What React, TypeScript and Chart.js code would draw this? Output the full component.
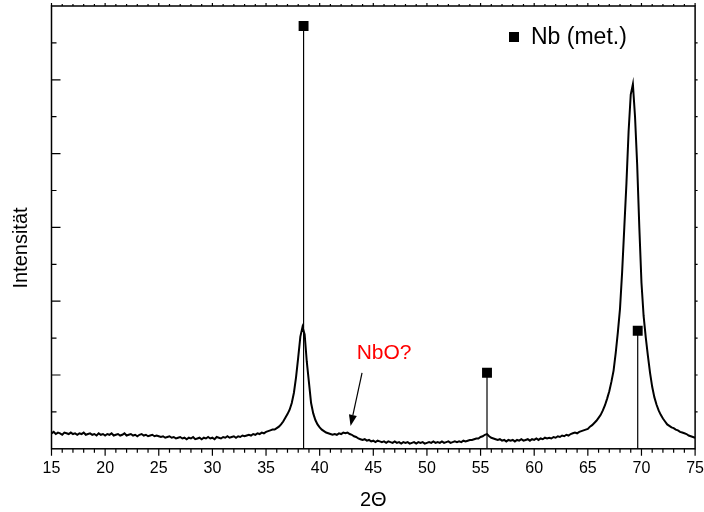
import { useEffect, useRef } from "react";
import { Chart, registerables } from "chart.js";

Chart.register(...registerables);

// measurement grid: 2Θ from 15° in 0.2° steps
const ANGLE_START = 15;
const ANGLE_STEP = 0.2;

// measured intensity (arbitrary units), one value per grid step
const intensity: number[] = [
  // 15.0 – 25.0
  0.21, 0.23, 0.20, 0.22, 0.21, 0.19, 0.22, 0.21, 0.20, 0.22,
  0.20, 0.21, 0.19, 0.21, 0.20, 0.22, 0.19, 0.20, 0.21, 0.19,
  0.20, 0.18, 0.21, 0.19, 0.20, 0.18, 0.20, 0.19, 0.21, 0.18,
  0.19, 0.20, 0.18, 0.19, 0.21, 0.18, 0.19, 0.20, 0.18, 0.19,
  0.17, 0.19, 0.20, 0.18, 0.19, 0.17, 0.18, 0.19, 0.17, 0.18,
  0.17,
  // 25.2 – 35.0
  0.16, 0.17, 0.15, 0.16, 0.17, 0.15, 0.16, 0.14, 0.15, 0.16,
  0.14, 0.15, 0.13, 0.15, 0.14, 0.16, 0.13, 0.14, 0.15, 0.13,
  0.15, 0.14, 0.16, 0.14, 0.15, 0.13, 0.16, 0.15, 0.14, 0.16,
  0.15, 0.17, 0.15, 0.16, 0.17, 0.15, 0.17, 0.16, 0.18, 0.17,
  0.18, 0.19, 0.18, 0.20, 0.19, 0.21, 0.20, 0.22, 0.21, 0.23,
  // 35.2 – 40.8
  0.24, 0.25, 0.26, 0.26, 0.28, 0.30, 0.33, 0.37, 0.42, 0.47,
  0.53, 0.62, 0.76, 0.97, 1.24, 1.52, 1.65, 1.55, 1.18, 0.90,
  0.62, 0.48, 0.39, 0.33, 0.29, 0.26, 0.24, 0.22, 0.21,
  // 41.0 – 54.0
  0.20, 0.19, 0.20, 0.19, 0.21, 0.20, 0.22, 0.21, 0.22, 0.20,
  0.19, 0.17, 0.16, 0.14, 0.13, 0.12, 0.13, 0.11, 0.12, 0.10,
  0.11, 0.09, 0.11, 0.10, 0.09, 0.10, 0.08, 0.10, 0.09, 0.08,
  0.10, 0.08, 0.09, 0.07, 0.09, 0.08, 0.09, 0.07, 0.08, 0.09,
  0.07, 0.09, 0.08, 0.09, 0.07, 0.08, 0.09, 0.08, 0.10, 0.08,
  0.09, 0.08, 0.10, 0.08, 0.09, 0.10, 0.08, 0.09, 0.10, 0.09,
  0.10, 0.09, 0.11, 0.10, 0.11, 0.12,
  // 54.2 – 62.8
  0.12, 0.13, 0.14, 0.14, 0.16, 0.17, 0.19, 0.20, 0.17, 0.15,
  0.14, 0.13, 0.12, 0.13, 0.11, 0.12, 0.10, 0.12, 0.11, 0.12,
  0.10, 0.12, 0.11, 0.13, 0.11, 0.12, 0.13, 0.11, 0.13, 0.12,
  0.14, 0.12, 0.14, 0.13, 0.15, 0.14, 0.15, 0.14, 0.16, 0.15,
  0.17, 0.16, 0.18, 0.17,
  // 63.0 – 75.0
  0.19, 0.18, 0.20, 0.21, 0.22, 0.21, 0.23, 0.24, 0.25, 0.26,
  0.27, 0.30, 0.32, 0.35, 0.38, 0.42, 0.46, 0.52, 0.59, 0.68,
  0.78, 0.91, 1.06, 1.30, 1.58, 1.90, 2.40, 3.00, 3.60, 4.30,
  4.80, 4.94, 4.50, 3.85, 3.00, 2.25, 1.80, 1.51, 1.26, 1.03,
  0.84, 0.70, 0.60, 0.52, 0.46, 0.41, 0.37, 0.33, 0.31, 0.29,
  0.28, 0.26, 0.25, 0.23, 0.22, 0.21, 0.20, 0.18, 0.17, 0.16,
  0.15,
];

// reference reflections of metallic Nb
const refLabel = "Nb (met.)";
const refAngles = [38.5, 55.6, 69.65];
const refHeights = [5.73, 1.03, 1.6];

// annotation
const noteText = "NbO?";
const noteTextPos = { x: 43.45, y: 1.29 };
const noteArrowFrom = { x: 43.95, y: 1.03 };
const noteArrowTo = { x: 42.88, y: 0.31 };

const X_MIN = 15;
const X_MAX = 75;
const X_MAJOR = 5;
const X_MINOR = 1;
const Y_MIN = 0;
const Y_MAX = 6;
const Y_MAJOR = 1;
const Y_MINOR = 0.5;

const xTitle = "2Θ";
const yTitle = "Intensität";

const FONT = "'Liberation Sans', Arial, Helvetica, sans-serif";

export default function App() {
  const canvasRef = useRef<HTMLCanvasElement | null>(null);

  useEffect(() => {
    document.body.style.margin = "0";
    const canvas = canvasRef.current;
    if (!canvas) return;

    const curve = intensity.map((v, i) => ({
      x: +(ANGLE_START + i * ANGLE_STEP).toFixed(2),
      y: v,
    }));

    const refData: { x: number; y: number | null }[] = [];
    refAngles.forEach((a, i) => {
      refData.push({ x: a, y: 0 });
      refData.push({ x: a, y: refHeights[i] });
      refData.push({ x: a, y: null });
    });

    const decorations = {
      id: "decorations",
      afterDraw(chart: any) {
        const { ctx, chartArea: ca, scales } = chart;
        const xs = scales.x;
        const ys = scales.y;
        ctx.save();
        ctx.strokeStyle = "#000";
        ctx.fillStyle = "#000";

        // frame
        ctx.lineWidth = 1.5;
        ctx.strokeRect(ca.left, ca.top, ca.right - ca.left, ca.bottom - ca.top);

        // x ticks (bottom outward, top outward)
        ctx.lineWidth = 1.2;
        for (let v = X_MIN; v <= X_MAX + 1e-9; v += X_MINOR) {
          const major = Math.abs(v / X_MAJOR - Math.round(v / X_MAJOR)) < 1e-6;
          const px = xs.getPixelForValue(v);
          ctx.beginPath();
          ctx.moveTo(px, ca.bottom);
          ctx.lineTo(px, ca.bottom + (major ? 7 : 4));
          ctx.moveTo(px, ca.top);
          ctx.lineTo(px, ca.top - (major ? 3 : 2));
          ctx.stroke();
        }
        // y ticks (left inward, right outward)
        for (let v = Y_MIN + Y_MINOR; v < Y_MAX - 1e-9; v += Y_MINOR) {
          const major = Math.abs(v / Y_MAJOR - Math.round(v / Y_MAJOR)) < 1e-6;
          const py = ys.getPixelForValue(v);
          ctx.beginPath();
          ctx.moveTo(ca.left, py);
          ctx.lineTo(ca.left + (major ? 9 : 5), py);
          ctx.moveTo(ca.right, py);
          ctx.lineTo(ca.right + 2.5, py);
          ctx.stroke();
        }

        // y title
        ctx.font = `20px ${FONT}`;
        ctx.textAlign = "center";
        ctx.textBaseline = "middle";
        ctx.save();
        ctx.translate(21, 248);
        ctx.rotate(-Math.PI / 2);
        ctx.fillText(yTitle, 0, 0);
        ctx.restore();

        // legend
        ctx.fillRect(509, 32, 10, 10);
        ctx.textAlign = "left";
        ctx.font = `23px ${FONT}`;
        ctx.fillText(refLabel, 531, 38);

        // annotation
        ctx.font = `21px ${FONT}`;
        ctx.fillStyle = "#ff0000";
        ctx.fillText(noteText, xs.getPixelForValue(noteTextPos.x), ys.getPixelForValue(noteTextPos.y));
        const x0 = xs.getPixelForValue(noteArrowFrom.x);
        const y0 = ys.getPixelForValue(noteArrowFrom.y);
        const x1 = xs.getPixelForValue(noteArrowTo.x);
        const y1 = ys.getPixelForValue(noteArrowTo.y);
        const ang = Math.atan2(y1 - y0, x1 - x0);
        const hl = 11;
        const hw = 4;
        const bx = x1 - hl * Math.cos(ang);
        const by = y1 - hl * Math.sin(ang);
        ctx.strokeStyle = "#000";
        ctx.fillStyle = "#000";
        ctx.lineWidth = 1.2;
        ctx.beginPath();
        ctx.moveTo(x0, y0);
        ctx.lineTo(bx, by);
        ctx.stroke();
        ctx.beginPath();
        ctx.moveTo(x1, y1);
        ctx.lineTo(bx + hw * Math.sin(ang), by - hw * Math.cos(ang));
        ctx.lineTo(bx - hw * Math.sin(ang), by + hw * Math.cos(ang));
        ctx.closePath();
        ctx.fill();
        ctx.restore();
      },
    };

    const chart = new Chart(canvas, {
      type: "line",
      data: {
        datasets: [
          {
            label: "XRD",
            data: curve,
            borderColor: "#000",
            borderWidth: 2,
            pointRadius: 0,
            tension: 0,
          },
          {
            label: refLabel,
            data: refData as any,
            borderColor: "#000",
            backgroundColor: "#000",
            borderWidth: 1.2,
            spanGaps: false,
            pointStyle: "rect",
            pointRadius: (c: any) => (c.raw && c.raw.y > 0 ? 7 : 0),
            pointBorderWidth: 0,
            pointHoverRadius: 0,
          },
        ],
      },
      options: {
        animation: false,
        responsive: true,
        maintainAspectRatio: false,
        parsing: true,
        layout: { padding: { left: 51.5, right: 8.5, top: 6, bottom: 0 } },
        plugins: {
          legend: { display: false },
          tooltip: { enabled: false },
        },
        scales: {
          x: {
            type: "linear",
            min: X_MIN,
            max: X_MAX,
            border: { display: false },
            grid: { display: false, drawTicks: true, tickLength: 10 },
            ticks: {
              stepSize: X_MAJOR,
              color: "#000",
              padding: 0,
              maxRotation: 0,
              autoSkip: false,
              font: { family: FONT, size: 16 },
            },
            title: {
              display: true,
              text: xTitle,
              color: "#000",
              font: { family: FONT, size: 20 },
              padding: { top: 10, bottom: 0 },
            },
          },
          y: {
            type: "linear",
            min: Y_MIN,
            max: Y_MAX,
            display: false,
          },
        },
      },
      plugins: [decorations],
    });

    return () => chart.destroy();
  }, []);

  return (
    <div style={{ width: 704, height: 512, position: "relative", background: "#fff" }}>
      <canvas ref={canvasRef} />
    </div>
  );
}
